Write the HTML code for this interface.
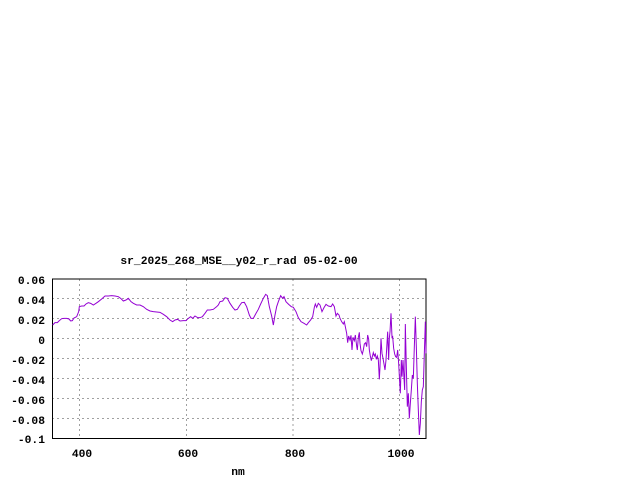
<!DOCTYPE html>
<html><head><style>
html,body{margin:0;padding:0;background:#fff;width:640px;height:480px;overflow:hidden}
svg text{font-family:"Liberation Mono",monospace;font-weight:bold;font-size:11.3px;fill:#000}
</style></head><body>
<svg width="640" height="480" viewBox="0 0 640 480">
<text x="239" y="264" text-anchor="middle">sr_2025_268_MSE__y02_r_rad 05-02-00</text>
<g stroke="#a0a0a0" stroke-width="1" stroke-dasharray="2,3">
<line x1="52" y1="298.5" x2="426" y2="298.5"/>
<line x1="52" y1="318.5" x2="426" y2="318.5"/>
<line x1="52" y1="338.5" x2="426" y2="338.5"/>
<line x1="52" y1="358.5" x2="426" y2="358.5"/>
<line x1="52" y1="378.5" x2="426" y2="378.5"/>
<line x1="52" y1="398.5" x2="426" y2="398.5"/>
<line x1="52" y1="418.5" x2="426" y2="418.5"/>
<line x1="79.5" y1="279" x2="79.5" y2="438"/>
<line x1="186.5" y1="279" x2="186.5" y2="438"/>
<line x1="293" y1="279" x2="293" y2="438"/>
<line x1="399.5" y1="279" x2="399.5" y2="438"/>
</g>
<rect x="52.5" y="279" width="373.5" height="159.5" fill="none" stroke="#000" stroke-width="1"/>
<g text-anchor="end">
<text x="45" y="284">0.06</text>
<text x="45" y="304">0.04</text>
<text x="45" y="324">0.02</text>
<text x="45" y="344">0</text>
<text x="45" y="364">-0.02</text>
<text x="45" y="384">-0.04</text>
<text x="45" y="404">-0.06</text>
<text x="45" y="424">-0.08</text>
<text x="45" y="443">-0.1</text>
</g>
<g text-anchor="middle">
<text x="82" y="457">400</text>
<text x="188" y="457">600</text>
<text x="295" y="457">800</text>
<text x="401" y="457">1000</text>
<text x="238" y="475">nm</text>
</g>
<g transform="translate(0,250) scale(0.33333)">
<polyline fill="none" stroke="#9400d3" stroke-width="3" points="158,225 165,218 172,218 178,212 185,206 192,205 200,205 207,207 212,213 217,212 222,204 230,200 236,185 238,170 245,168 252,168 258,162 265,158 272,160 280,165 288,160 295,155 305,147 315,138 325,138 335,137 345,138 355,140 362,145 370,153 378,150 385,145 393,155 400,160 410,165 420,165 430,170 440,178 450,183 460,185 470,186 480,187 490,193 500,200 510,210 518,215 525,210 533,208 540,213 550,212 558,212 565,205 572,200 578,205 585,198 593,203 600,203 607,200 615,190 622,180 630,180 640,178 650,170 655,165 660,155 668,153 675,143 682,145 690,160 698,172 705,180 712,178 718,168 725,158 733,157 740,170 748,195 753,205 760,205 768,190 775,178 782,162 790,145 797,133 802,137 808,170 815,198 820,225 825,195 830,170 835,155 842,137 848,145 852,140 858,155 866,163 874,170 880,172 888,185 895,203 903,215 912,220 920,225 925,218 932,210 938,200 943,172 946,162 950,172 955,160 960,165 966,185 972,173 978,163 985,168 993,170 998,162 1003,170 1008,198 1012,190 1017,195 1020,205 1025,215 1030,222 1033,215 1036,230 1040,250 1043,278 1046,258 1050,270 1053,256 1056,300 1059,262 1063,272 1066,255 1070,288 1072,300 1075,262 1078,247 1080,280 1083,302 1087,312 1090,300 1093,282 1097,278 1100,290 1103,255 1106,268 1108,300 1111,318 1114,332 1117,320 1120,308 1123,318 1126,312 1129,328 1132,318 1135,330 1138,388 1140,350 1143,265 1146,310 1149,325 1152,342 1155,360 1158,330 1161,280 1163,245 1166,330 1168,265 1170,245 1173,190 1176,262 1178,260 1181,295 1184,312 1187,320 1190,322 1193,300 1196,340 1199,395 1201,430 1204,330 1206,380 1209,330 1212,385 1214,420 1216,222 1219,350 1222,470 1225,430 1228,505 1231,460 1234,420 1237,375 1240,385 1243,290 1246,200 1249,290 1252,400 1255,480 1258,555 1261,520 1264,455 1267,420 1270,410 1273,310 1276,215 1278,310"/>
</g>
</svg>
</body></html>
